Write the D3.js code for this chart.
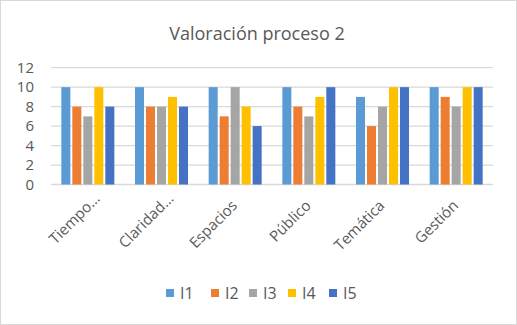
<!DOCTYPE html>
<html lang="es">
<head>
  <meta charset="UTF-8">
  <title>Valoración proceso 2</title>
  <script src="https://d3js.org/d3.v7.min.js"></script>
  <style>
    body { margin: 0; font-family: "Open Sans", "Noto Sans", sans-serif; }
    svg { display: block; }
  </style>
</head>
<body>
  <div id="chart"></div>
  <script>
    // Data
    const categories = ["Tiempo…", "Claridad…", "Espacios", "Público", "Temática", "Gestión"];
    const seriesNames = ["I1", "I2", "I3", "I4", "I5"];
    const I1 = [10, 10, 10, 10, 9, 10];
    const I2 = [8, 8, 7, 8, 6, 9];
    const I3 = [7, 8, 10, 7, 8, 8];
    const I4 = [10, 9, 8, 9, 10, 10];
    const I5 = [8, 8, 6, 10, 10, 10];
    const yTicks = [0, 2, 4, 6, 8, 10, 12];

    const seriesValues = [I1, I2, I3, I4, I5];
    const colors = ["#5B9BD5", "#ED7D31", "#A5A5A5", "#FFC000", "#4472C4"];

    const width = 517, height = 325;
    const plot = { left: 51, right: 493, top: 67.7, bottom: 184.5 };

    const svg = d3.select("#chart").append("svg")
      .attr("width", width)
      .attr("height", height);

    // Background and border
    svg.append("rect")
      .attr("x", 0.5).attr("y", 0.5)
      .attr("width", width - 1).attr("height", height - 1)
      .attr("fill", "#fff").attr("stroke", "#D9D9D9");

    // Title
    svg.append("text")
      .attr("x", 257).attr("y", 40)
      .attr("text-anchor", "middle")
      .attr("fill", "#595959")
      .attr("font-size", 18)
      .text("Valoración proceso 2");

    const x = d3.scaleBand()
      .domain(categories)
      .range([plot.left, plot.right]);

    const y = d3.scaleLinear()
      .domain([0, 12])
      .range([plot.bottom, plot.top]);

    const inner = d3.scaleBand()
      .domain(seriesNames)
      .range([0, 53])
      .paddingInner(0.18);

    // Gridlines
    svg.append("g")
      .selectAll("line")
      .data(yTicks)
      .join("line")
      .attr("x1", plot.left).attr("x2", plot.right)
      .attr("y1", d => y(d)).attr("y2", d => y(d))
      .attr("stroke", "#D9D9D9")
      .attr("stroke-width", 1.3);

    // Y axis labels
    const yAxis = svg.append("g")
      .attr("transform", `translate(${plot.left - 17},0)`)
      .call(d3.axisLeft(y).tickValues(yTicks).tickSize(0).tickPadding(0));
    yAxis.select(".domain").remove();
    yAxis.selectAll("text")
      .attr("fill", "#595959")
      .attr("font-size", 15)
      .attr("font-family", "Open Sans, Noto Sans, sans-serif");

    // Bars
    const rows = categories.map((c, i) => ({
      cat: c,
      vals: seriesNames.map((s, j) => ({ s, v: seriesValues[j][i], color: colors[j] }))
    }));

    svg.append("g")
      .selectAll("g")
      .data(rows)
      .join("g")
      .attr("transform", d => `translate(${x(d.cat) + x.bandwidth() / 2 - 26.5},0)`)
      .selectAll("rect")
      .data(d => d.vals)
      .join("rect")
      .attr("x", d => inner(d.s))
      .attr("y", d => y(d.v))
      .attr("width", inner.bandwidth())
      .attr("height", d => y(0) - y(d.v))
      .attr("fill", d => d.color);

    // X axis labels (rotated); truncated labels sit a bit further right
    const xAxis = svg.append("g")
      .attr("transform", `translate(0,${plot.bottom})`)
      .call(d3.axisBottom(x).tickSize(0).tickPadding(0));
    xAxis.select(".domain").remove();
    xAxis.selectAll("text")
      .attr("fill", "#595959")
      .attr("font-size", 15)
      .attr("font-family", "Open Sans, Noto Sans, sans-serif")
      .attr("text-anchor", "end")
      .attr("dy", 0)
      .attr("transform", d => d.endsWith("…")
        ? "translate(13,15) rotate(-45)"
        : "translate(3,22) rotate(-45)");

    // Legend
    const legend = svg.append("g")
      .attr("transform", "translate(166,293)");
    const item = legend.selectAll("g")
      .data(seriesNames)
      .join("g")
      .attr("transform", (d, i) => `translate(${[0, 45, 83, 122, 163][i]},0)`);
    item.append("rect")
      .attr("x", 0).attr("y", -4)
      .attr("width", 8).attr("height", 8)
      .attr("fill", (d, i) => colors[i]);
    item.append("text")
      .attr("x", 14).attr("y", 6)
      .attr("fill", "#595959")
      .attr("font-size", 16)
      .text(d => d);
  </script>
</body>
</html>
